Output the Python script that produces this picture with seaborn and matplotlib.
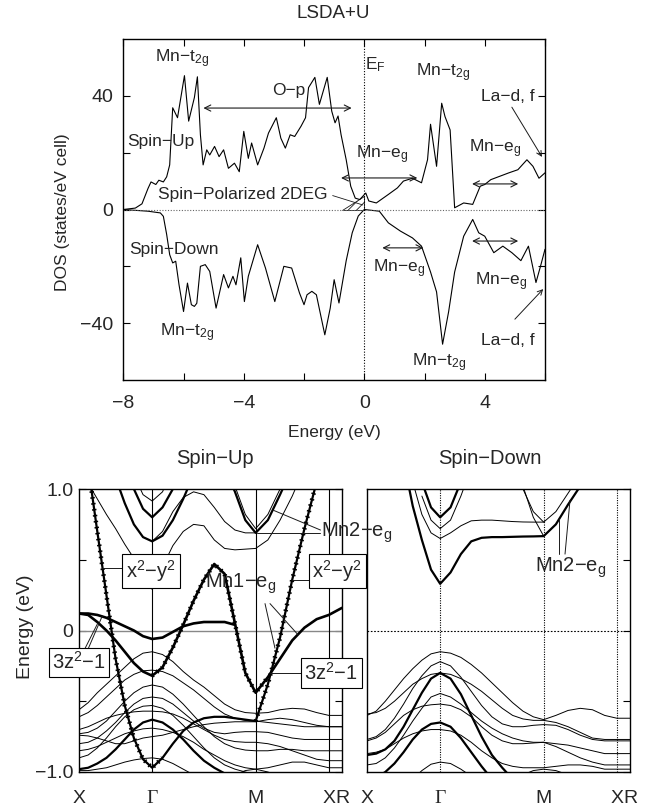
import numpy as np
import matplotlib
matplotlib.use('Agg')
import matplotlib.pyplot as plt
import seaborn as sns
from matplotlib.patches import Polygon

nan = np.nan

# ---------------- DOS data ----------------
e_up = [-8.0, -7.6, -7.38, -7.18, -7.08, -6.92, -6.82, -6.67, -6.56, -6.46,
        -6.36, -6.2, -5.97, -5.83, -5.64, -5.54, -5.44, -5.35, -5.23, -5.13,
        -4.97, -4.82, -4.67, -4.51, -4.31, -4.15, -4.0, -3.85, -3.74, -3.54,
        -3.33, -3.18, -2.92, -2.77, -2.62, -2.46, -2.31, -2.1, -1.95, -1.85,
        -1.64, -1.49, -1.23, -1.08, -0.97, -0.87, -0.77, -0.6, -0.45, -0.3,
        -0.15, 0.05, 0.15, 0.4, 0.8, 1.1, 1.3, 1.6, 1.9, 2.1,
        2.2, 2.4, 2.57, 2.68, 2.85, 3.0, 3.3, 3.6, 3.85, 4.0,
        4.2, 4.5, 4.8, 5.1, 5.4, 5.6, 5.8, 6.0]
dos_up = [0, 0.5, 2, 7.4, 9.7, 8.8, 10.3, 9.7, 11.5, 15.7,
          35.8, 32.3, 47.1, 31.1, 39.4, 46.7, 26.3, 15.7, 21, 19.2,
          22.2, 18.6, 21, 14.5, 16.3, 13.3, 27.5, 18, 23.4, 15.7,
          21.6, 26.9, 32.3, 25.1, 21.6, 26.3, 25.7, 29.3, 32.3, 42.9,
          46.5, 37, 46.5, 34.6, 30.5, 32.9, 26.3, 17.5, 8.2, 4,
          3.5, 5.8, 3.0, 2.3, 5.3, 7.6, 10, 11, 9.4, 17.5,
          30, 15.2, 37.4, 32.7, 28, 0.6, 2.3, 1.8, 8.2, 8.8,
          10.5, 11.7, 12.9, 14, 17.5, 15.2, 11, 12.9]
e_dn = [-8.0, -7.18, -6.77, -6.67, -6.56, -6.46, -6.36, -6.26, -6.15, -6.0,
        -5.87, -5.74, -5.64, -5.56, -5.44, -5.28, -5.13, -4.92, -4.67, -4.51,
        -4.36, -4.26, -4.1, -3.98, -3.85, -3.54, -3.28, -2.97, -2.67, -2.41,
        -2.15, -2.0, -1.9, -1.74, -1.59, -1.31, -1.13, -1.0, -0.84, -0.6,
        -0.4, -0.2, 0.0, 0.5, 0.8, 1.2, 1.6, 1.9, 2.2, 2.4,
        2.6, 2.8, 3.0, 3.3, 3.6, 3.8, 4.0, 4.3, 4.6, 4.9,
        5.2, 5.45, 5.7, 5.85, 6.0]
dos_dn = [0, -0.6, -1.2, -2.4, -8.8, -15.9, -18.8, -18.2, -26.5, -35.9,
          -25.9, -33.5, -34.1, -33, -20, -19.4, -21.8, -34.7, -22.9, -27.6,
          -23.5, -26.5, -17, -32.4, -23.5, -12.4, -20.6, -32.4, -20, -20.6,
          -29.4, -33.5, -30, -28.8, -30, -44.1, -34.7, -24.7, -32.9, -18,
          -8.2, -2.3, 0, -0.6, -4.7, -7.6, -10, -12.9, -22, -29,
          -47.4, -36, -22, -9.4, -3.5, -8.2, -9.4, -15.2, -12.9, -15.2,
          -18, -12.9, -25.7, -20, -14]

# ---------------- band structure data ----------------
# k-path sample points: X -> Gamma (8 steps), Gamma -> M (10), M -> X (6), X -> R (1)
k_X, k_G, k_M, k_X2, k_R = 0.0, 1.0, 2.4142, 3.4142, 3.594
kpath = np.concatenate([np.linspace(k_X, k_G, 9), np.linspace(k_G, k_M, 11)[1:],
                        np.linspace(k_M, k_X2, 7)[1:], [k_R]])
k_ticks = [k_X, k_G, k_M, k_X2, k_R]
k_labels = ['X', 'Γ', 'M', 'X', 'R']

# spin-up: Mn1-eg bands (bold)
up_x2y2 = [1.7, 1.16, 0.70, 0.25, -0.20, -0.53, -0.76, -0.91, -0.97,
           -0.90, -0.80, -0.71, -0.65, -0.62, -0.61, -0.61, -0.62, -0.63, -0.64,
           -0.38, -0.05, 0.36, 0.72, 1.05, 1.40, 1.70]
up_3z2a = [0.12, 0.11, 0.06, 0.0, -0.07, -0.15, -0.23, -0.29, -0.32,
           -0.26, -0.12, 0.04, 0.21, 0.36, 0.47, 0.40, 0.05, -0.30, -0.44,
           -0.33, -0.20, -0.07, 0.02, 0.08, 0.11, 0.16]
up_3z2b = [0.12, 0.12, 0.11, 0.09, 0.06, 0.03, 0.0, -0.04, -0.06,
           -0.05, -0.01, 0.03, 0.05, 0.06, 0.06, 0.06, 0.04, nan, nan,
           nan, nan, nan, nan, nan, nan, nan]
# spin-up: other bands
up_thin = [
    [nan]*6 + [1.10, 0.96, 0.915, 0.98, 1.15] + [nan]*15,
    [1.15, 1.04, 0.93, 0.82, 0.72, 0.61, 0.51, 0.40, 0.29, 0.45, 0.60, 0.70, 0.75,
     0.74, 0.64, 0.58, 0.57, 0.575, 0.58, 0.64, 0.78, 0.95, 1.15, nan, nan, nan],
    [nan]*8 + [0.63, 0.70, 0.84, 0.94, 0.98, 0.96, 0.87, 0.77, 0.71, 0.69, 0.69] + [nan]*7,
    [nan]*15 + [1.2, 1.02, 0.82, 0.72, 0.82, 1.0, 1.2] + [nan]*4,
    [-0.56, -0.51, -0.44, -0.38, -0.32, -0.26, -0.20, -0.16, -0.15, -0.17, -0.22, -0.29, -0.35,
     -0.40, -0.46, -0.52, -0.56, -0.58, -0.585, -0.58, -0.56, -0.55, -0.555, -0.58, -0.60, -0.60],
    [-0.61, -0.58, -0.53, -0.47, -0.41, -0.35, -0.31, -0.285, -0.28, -0.29, -0.32, -0.37, -0.42,
     -0.48, -0.54, -0.59, -0.62, -0.635, -0.64, -0.65, -0.66, -0.67, -0.68, -0.68, -0.68, -0.68],
    [-0.73, -0.72, -0.69, -0.64, -0.57, -0.50, -0.44, -0.40, -0.385, -0.40, -0.45, -0.52, -0.60,
     -0.68, -0.75, -0.80, -0.83, -0.845, -0.85, -0.85, -0.84, -0.84, -0.85, -0.85, -0.85, -0.85],
    [-0.80, -0.79, -0.76, -0.71, -0.65, -0.58, -0.52, -0.48, -0.47, -0.48, -0.52, -0.58, -0.64,
     -0.69, -0.72, -0.73, -0.72, -0.715, -0.715, -0.72, -0.74, -0.76, -0.77, -0.77, -0.77, -0.77],
    [-0.90, -0.88, -0.83, -0.76, -0.68, -0.61, -0.56, -0.535, -0.53, -0.55, -0.60, -0.67, -0.75,
     -0.83, -0.90, -0.95, -0.98, -1.00, -1.02, -1.06, -1.1, -1.1, -1.1, -1.1, -1.1, -1.1],
    [-0.70, -0.68, -0.65, -0.62, -0.60, -0.585, -0.575, -0.57, -0.57, -0.575, -0.59, -0.62, -0.66,
     -0.70, -0.74, -0.77, -0.785, -0.79, -0.79, -0.80, -0.82, -0.85, -0.88, -0.91, -0.92, -0.92],
    [-0.85, -0.84, -0.82, -0.79, -0.76, -0.73, -0.71, -0.695, -0.69, -0.70, -0.72, -0.75, -0.79,
     -0.84, -0.88, -0.92, -0.95, -0.97, -0.98, -0.97, -0.95, -0.93, -0.93, -0.95, -0.97, -0.97],
    [-0.99, -0.99, -0.98, -0.97, -0.95, -0.93, -0.915, -0.905, -0.90, -0.91, -0.94, -0.98, -1.02]
    + [nan]*13,
    [nan]*16 + [-1.02, -0.99, -0.98, -1.0, -1.03] + [nan]*5,
    [-0.74, -0.745, -0.76, -0.78, -0.80, -0.80, -0.78, -0.76, -0.75, -0.74, -0.72, -0.70, -0.68,
     -0.665, -0.655, -0.65, -0.645, -0.645, -0.645, -0.63, -0.62, -0.63, -0.65, -0.67, -0.68, -0.68],
]
up_bold = [
    [nan]*5 + [1.2, 1.0, 0.86, 0.80, 0.87, 1.0, 1.2] + [nan]*14,
    [nan]*4 + [1.08, 0.9, 0.75, 0.66, 0.63, 0.67, 0.78, 0.93, 1.1] + [nan]*13,
    [nan]*15 + [1.15, 0.98, 0.78, 0.69, 0.78, 0.96, 1.15] + [nan]*4,
    [-0.98, -0.97, -0.94, -0.90, -0.84, -0.77, -0.70, -0.65, -0.63, -0.65, -0.70, -0.77, -0.85,
     -0.92, -0.97, -1.01, -1.05, -1.1] + [nan]*8,
]
# spin-down bands
dn_bold = [
    [nan, nan, 1.6, 1.4, 1.2, 0.88, 0.64, 0.43, 0.33, 0.41, 0.54, 0.63, 0.655, 0.66, 0.66,
     0.662, 0.664, 0.665, 0.667, 0.75, 0.89, 1.02, 1.2, nan, nan, nan],
    [nan]*6 + [1.05, 0.87, 0.80, 0.87, 1.05] + [nan]*15,
    [-0.88, -0.87, -0.84, -0.78, -0.68, -0.56, -0.44, -0.34, -0.30, -0.34, -0.45, -0.60, -0.75,
     -0.88, -0.97, -1.05, -1.12] + [nan]*9,
    [-1.05, -1.04, -1.00, -0.94, -0.86, -0.77, -0.70, -0.66, -0.65, -0.68, -0.76, -0.86, -0.96,
     -1.05, -1.12] + [nan]*11,
]
dn_thin = [
    [nan]*5 + [1.05, 0.82, 0.69, 0.65, 0.69, 0.74, 0.775, 0.78, 0.78, 0.775, 0.77, 0.767,
               0.766, 0.766, 0.84, 0.97, 1.1] + [nan]*4,
    [nan]*6 + [0.95, 0.78, 0.72, 0.78, 0.95, 1.15] + [nan]*14,
    [nan]*15 + [1.3, 1.02, 0.80, 0.667] + [nan]*7,
    [nan]*15 + [1.25, 1.0, 0.84, 0.766] + [nan]*7,
    [-0.60, -0.57, -0.50, -0.42, -0.34, -0.27, -0.21, -0.165, -0.15, -0.16, -0.19, -0.24, -0.30,
     -0.37, -0.44, -0.51, -0.57, -0.61, -0.63, -0.60, -0.565, -0.55, -0.56, -0.60, -0.62, -0.62],
    [-0.77, -0.75, -0.70, -0.62, -0.52, -0.41, -0.32, -0.25, -0.22, -0.25, -0.33, -0.43, -0.53,
     -0.61, -0.66, -0.68, -0.68, -0.67, -0.665, -0.67, -0.70, -0.74, -0.77, -0.78, -0.78, -0.78],
    [-0.59, -0.58, -0.55, -0.50, -0.44, -0.38, -0.34, -0.31, -0.30, -0.31, -0.34, -0.38, -0.43,
     -0.49, -0.55, -0.60, -0.625, -0.635, -0.635, -0.65, -0.68, -0.72, -0.76, -0.77, -0.77, -0.77],
    [-0.95, -0.94, -0.90, -0.83, -0.74, -0.64, -0.55, -0.47, -0.445, -0.47, -0.52, -0.58, -0.64,
     -0.69, -0.73, -0.76, -0.78, -0.79, -0.79, -0.80, -0.81, -0.83, -0.85, -0.87, -0.87, -0.87],
    [-0.78, -0.76, -0.72, -0.66, -0.60, -0.56, -0.535, -0.525, -0.52, -0.53, -0.56, -0.61, -0.68,
     -0.74, -0.78, -0.80, -0.80, -0.795, -0.79, -0.82, -0.86, -0.90, -0.93, -0.95, -0.95, -0.95],
    [-0.87, -0.86, -0.84, -0.80, -0.76, -0.73, -0.71, -0.70, -0.70, -0.71, -0.74, -0.79, -0.85,
     -0.90, -0.94, -0.96, -0.97, -0.97, -0.97, -0.96, -0.95, -0.95, -0.96, -0.98, -0.98, -0.98],
    [nan]*5 + [-1.05, -0.99, -0.945, -0.93, -0.94, -0.98, -1.03] + [nan]*14,
    [nan]*16 + [-1.02, -0.99, -0.98, -0.99, -1.02] + [nan]*5,
]

# ---------------- style ----------------
sns.set_theme(style='ticks', rc={'xtick.direction': 'in', 'ytick.direction': 'in',
                                 'axes.edgecolor': 'black', 'axes.linewidth': 1.0,
                                 'hatch.linewidth': 0.6})
plt.rcParams['font.family'] = ['Liberation Sans', 'DejaVu Sans']
plt.rcParams['mathtext.fontset'] = 'custom'
plt.rcParams['mathtext.rm'] = 'Liberation Sans'
plt.rcParams['mathtext.it'] = 'Liberation Sans'
plt.rcParams['mathtext.default'] = 'regular'

W, H = 650, 810
fig = plt.figure(figsize=(6.5, 8.1), dpi=100)


def box(l, t, r, b):
    return [l / W, 1 - b / H, (r - l) / W, (b - t) / H]


ax = fig.add_axes(box(123.3, 39, 545, 380))
axu = fig.add_axes(box(79, 489, 342, 772))
axd = fig.add_axes(box(367, 489, 630, 772))
axd.patch.set_alpha(0.0)
axu.set_zorder(2)
axd.set_zorder(1)

# ---------------- DOS panel ----------------
sns.lineplot(x=e_up, y=dos_up, ax=ax, color='black', lw=0.8, estimator=None, sort=False)
sns.lineplot(x=e_dn, y=dos_dn, ax=ax, color='black', lw=0.8, estimator=None, sort=False)
ax.axvline(0, color='black', lw=0.8, ls=(0, (1, 1.5)))
ax.axhline(0, color='#666666', lw=0.8, ls=(0, (1, 1.5)))
ax.set_xlim(-8, 6)
ax.set_ylim(-60, 60)
ax.set_xticks([-8, -6, -4, -2, 0, 2, 4, 6])
ax.set_xticklabels(['−8', '', '−4', '', '0', '', '4', ''])
ax.set_yticks([-40, -20, 0, 20, 40])
ax.set_yticklabels(['−40', '', '0', '', '40'])
ax.tick_params(axis='both', which='both', top=True, right=True, length=5, width=0.8,
               labelsize=14, color='black')
ax.tick_params(axis='x', pad=11)
ax.tick_params(axis='y', pad=7)
ax.set_xlabel('')
ax.set_ylabel('')

fs = 12.5
ax.text(-6.05, 53, 'Mn−t$_{2g}$', fontsize=fs, ha='center', va='center')
ax.text(-2.5, 42, 'O−p', fontsize=fs, ha='center', va='center')
ax.annotate('', xy=(-0.42, 35.7), xytext=(-5.34, 35.7),
            arrowprops=dict(arrowstyle='<->', lw=0.8, color='k', shrinkA=0, shrinkB=0,
                            mutation_scale=11))
ax.text(0.38, 51, 'E$_F$', fontsize=fs, ha='center', va='center')
ax.text(2.6, 48, 'Mn−t$_{2g}$', fontsize=fs, ha='center', va='center')
ax.text(4.75, 39.8, 'La−d, f', fontsize=fs, ha='center', va='center')
ax.annotate('', xy=(5.9, 18.5), xytext=(4.9, 36),
            arrowprops=dict(arrowstyle='->', lw=0.7, color='k', shrinkA=0, shrinkB=0,
                            mutation_scale=9))
ax.text(-6.77, 24, 'Spin−Up', fontsize=fs, ha='center', va='center')
ax.text(0.58, 19.2, 'Mn−e$_g$', fontsize=fs, ha='center', va='center')
ax.annotate('', xy=(1.76, 11.1), xytext=(-0.77, 11.1),
            arrowprops=dict(arrowstyle='<->', lw=0.8, color='k', shrinkA=0, shrinkB=0,
                            mutation_scale=11))
ax.text(4.34, 21.5, 'Mn−e$_g$', fontsize=fs, ha='center', va='center')
ax.annotate('', xy=(5.11, 9.0), xytext=(3.58, 9.0),
            arrowprops=dict(arrowstyle='<->', lw=0.8, color='k', shrinkA=0, shrinkB=0,
                            mutation_scale=11))
ax.text(-4.04, 5.3, 'Spin−Polarized 2DEG', fontsize=fs, ha='center', va='center')
ax.plot([-1.05, -0.05], [4.9, 1.6], color='k', lw=0.6)
ax.add_patch(Polygon([(-0.75, 0), (0, 0), (0, 4.6)], closed=True, fill=False,
                     hatch='////', lw=0.6, edgecolor='k'))
ax.text(-6.31, -14, 'Spin−Down', fontsize=fs, ha='center', va='center')
ax.text(1.15, -21, 'Mn−e$_g$', fontsize=fs, ha='center', va='center')
ax.annotate('', xy=(1.96, -13.5), xytext=(0.6, -13.5),
            arrowprops=dict(arrowstyle='<->', lw=0.8, color='k', shrinkA=0, shrinkB=0,
                            mutation_scale=11))
ax.text(4.53, -25.5, 'Mn−e$_g$', fontsize=fs, ha='center', va='center')
ax.annotate('', xy=(5.11, -11.1), xytext=(3.58, -11.1),
            arrowprops=dict(arrowstyle='<->', lw=0.8, color='k', shrinkA=0, shrinkB=0,
                            mutation_scale=11))
ax.text(-5.87, -43.5, 'Mn−t$_{2g}$', fontsize=fs, ha='center', va='center')
ax.text(4.75, -46.2, 'La−d, f', fontsize=fs, ha='center', va='center')
ax.annotate('', xy=(5.94, -28), xytext=(5.0, -38.6),
            arrowprops=dict(arrowstyle='->', lw=0.7, color='k', shrinkA=0, shrinkB=0,
                            mutation_scale=9))
ax.text(2.48, -54, 'Mn−t$_{2g}$', fontsize=fs, ha='center', va='center')

fig.text(333 / W, 1 - 13 / H, 'LSDA+U', fontsize=13.5, ha='center', va='center')
fig.text(63 / W, 1 - 212 / H, 'DOS (states/eV cell)', fontsize=12.5, ha='center',
         va='center', rotation=90)
fig.text(334 / W, 1 - 432 / H, 'Energy (eV)', fontsize=12.5, ha='center', va='center')


# ---------------- band panels ----------------
def draw_band(a, vals, lw, marked=()):
    y = np.full(len(kpath), np.nan)
    v = np.asarray(vals, dtype=float)[:len(kpath)]
    y[:len(v)] = v
    m = np.isfinite(y)
    sns.lineplot(x=kpath[m], y=y[m], ax=a, color='black', lw=lw, estimator=None,
                 sort=False, zorder=2)
    for (i0, i1) in marked:
        a.plot(kpath[i0:i1 + 1], y[i0:i1 + 1], color='black', lw=3.2,
               dashes=(0.35, 1.0), zorder=3)


for vals in up_thin:
    draw_band(axu, vals, 0.7)
for vals in up_bold:
    draw_band(axu, vals, 1.6)
draw_band(axu, up_3z2b, 1.9)
draw_band(axu, up_3z2a, 1.9, marked=[(8, 19)])
draw_band(axu, up_x2y2, 1.6, marked=[(0, 9), (18, 25)])

for vals in dn_thin:
    draw_band(axd, vals, 0.7)
for vals in dn_bold:
    draw_band(axd, vals, 1.6)

axu.axhline(0, color='#888888', lw=1.0, zorder=1)
for kk in [k_G, k_M, k_X2]:
    axu.axvline(kk, color='black', lw=0.8, zorder=1)
    axd.axvline(kk, color='black', lw=0.8, ls=(0, (1, 1.2)), zorder=1)
axd.axhline(0, color='black', lw=0.8, ls=(0, (1.5, 1.5)), zorder=1)

for a in (axu, axd):
    a.set_xlim(k_X, k_R)
    a.set_ylim(-1, 1)
    a.set_xticks(k_ticks)
    a.set_xticklabels(k_labels)
    a.set_yticks([-1, -0.5, 0, 0.5, 1])
    a.tick_params(axis='x', length=0, labelsize=14, pad=13)
    a.tick_params(axis='y', length=5, width=0.8, labelsize=14, color='black')
    a.set_xlabel('')
    a.set_ylabel('')
    for lab in a.get_xticklabels():
        if lab.get_text() == 'Γ':
            lab.set_family(['Liberation Serif', 'DejaVu Serif'])
axu.set_yticklabels(['−1.0', '', '0', '', '1.0'])
axu.tick_params(axis='y', left=True, right=True, pad=4)
axd.set_yticklabels([])
axd.tick_params(axis='y', left=False, right=True, labelleft=False)

fig.text(26 / W, 1 - 627 / H, 'Energy (eV)', fontsize=14, ha='center', va='center',
         rotation=90)
fig.text(215 / W, 1 - 458 / H, 'Spin−Up', fontsize=14.5, ha='center', va='center')
fig.text(490 / W, 1 - 458 / H, 'Spin−Down', fontsize=14.5, ha='center', va='center')

bfs = 14.5
bb = dict(boxstyle='square,pad=0.18', fc='white', ec='black', lw=0.8)
# left x2-y2 box
axu.plot([0.31, 0.75], [0.44, 0.44], color='k', lw=0.7, zorder=4)
axu.text(0.984, 0.42, 'x$^2$−y$^2$', fontsize=bfs, ha='center', va='center', bbox=bb,
         zorder=6)
# right x2-y2 box
axu.plot([2.91, 3.4], [0.36, 0.36], color='k', lw=0.7, zorder=4)
axu.text(3.526, 0.42, 'x$^2$−y$^2$', fontsize=bfs, ha='center', va='center', bbox=bb,
         zorder=6, clip_on=False)
# left 3z2-1 box
axu.plot([0.05, 0.25], [-0.16, 0.045], color='k', lw=0.7, zorder=4, clip_on=False)
axu.plot([0.10, 0.32], [-0.16, 0.105], color='k', lw=0.7, zorder=4, clip_on=False)
axu.text(0.0, -0.225, '3z$^2$−1', fontsize=bfs, ha='center', va='center', bbox=bb,
         zorder=6, clip_on=False)
# right 3z2-1 box
axu.plot([2.61, 3.3], [-0.30, -0.30], color='k', lw=0.7, zorder=4)
axu.text(3.444, -0.30, '3z$^2$−1', fontsize=bfs, ha='center', va='center', bbox=bb,
         zorder=6, clip_on=False)
# Mn1-eg
axu.text(2.214, 0.33, 'Mn1−e$_g$', fontsize=bfs, ha='center', va='center', zorder=6)
axu.plot([2.542, 2.678], [0.19, -0.125], color='k', lw=0.7, zorder=4)
axu.plot([2.61, 2.993], [0.19, -0.03], color='k', lw=0.7, zorder=4)
# Mn2-eg (spin-up)
axu.plot([3.30, 2.655], [0.71, 0.85], color='k', lw=0.7, zorder=4, clip_on=False)
axu.plot([3.30, 2.428], [0.69, 0.69], color='k', lw=0.7, zorder=4, clip_on=False)
axu.text(3.31, 0.69, 'Mn2−e$_g$', fontsize=bfs, ha='left', va='center', zorder=6,
         clip_on=False)
# Mn2-eg (spin-down)
axd.plot([2.628, 2.628], [0.54, 0.79], color='k', lw=0.7, zorder=4)
axd.plot([2.706, 2.774], [0.54, 0.92], color='k', lw=0.7, zorder=4)
axd.text(2.788, 0.44, 'Mn2−e$_g$', fontsize=bfs, ha='center', va='center', zorder=6)

fig.savefig('out.png', dpi=100)
